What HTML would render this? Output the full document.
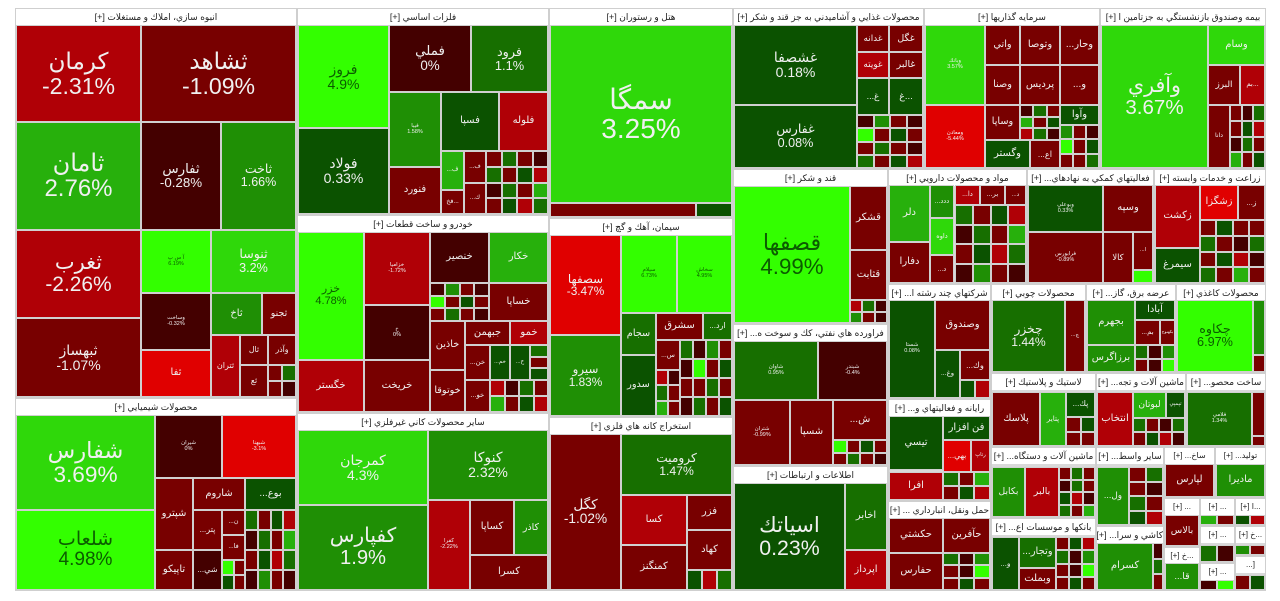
<!DOCTYPE html>
<html><head><meta charset="utf-8">
<style>
html,body{margin:0;padding:0;background:#fff;}
#map{position:relative;width:1280px;height:601px;overflow:hidden;background:#fff;font-family:"Liberation Sans","DejaVu Sans",sans-serif;}
.sec{position:absolute;box-sizing:border-box;background:#d9d9d9;border:1px solid #cfcfcf;}
.hdr{position:absolute;left:0;right:0;top:0;height:16px;background:#fff;color:#222;font-size:9px;line-height:16px;text-align:center;white-space:nowrap;overflow:hidden;direction:rtl;}
.t{position:absolute;box-sizing:border-box;border:1px solid #d0d0d0;display:flex;flex-direction:column;align-items:center;justify-content:center;overflow:hidden;text-align:center;line-height:1.05;white-space:nowrap;}
</style></head><body>
<div id="map"></div>
<script>
const sectorTitles=["انبوه سازي، املاك و مستغلات [+]","محصولات شيميايي [+]","فلزات اساسي [+]","خودرو و ساخت قطعات [+]","ساير محصولات كاني غيرفلزي [+]","هتل و رستوران [+]","سيمان، آهك و گچ [+]","استخراج كانه هاي فلزي [+]","محصولات غذايي و آشاميدني به جز قند و شكر [+]","سرمايه گذاريها [+]","بيمه وصندوق بازنشستگي به جزتامين ا [+]","قند و شكر [+]","فراورده هاي نفتي، كك و سوخت ه... [+]","اطلاعات و ارتباطات [+]","مواد و محصولات دارويي [+]","فعاليتهاي كمكي به نهادهاي... [+]","زراعت و خدمات وابسته [+]","شركتهاي چند رشته ا... [+]","محصولات چوبي [+]","عرضه برق، گاز... [+]","محصولات كاغذي [+]","لاستيك و پلاستيك [+]","ماشين آلات و تجه... [+]","ساخت محصو... [+]","رايانه و فعاليتهاي و... [+]","حمل ونقل، انبارداري ... [+]","ماشين آلات و دستگاه... [+]","بانكها و موسسات اع... [+]","ساير واسط... [+]","كاشي و سرا... [+]","ساخ... [+]","توليد... [+]","... [+]","... [+]","...ا [+]","... [+]","...خ [+]","...خ [+]","... [+]","[..."];
const sectorRects=[[15,8,296,397],[15,398,296,590],[297,8,548,214],[297,215,548,412],[297,413,548,590],[549,8,732,217],[549,218,732,416],[549,417,732,590],[733,8,923,168],[924,8,1099,168],[1100,8,1265,168],[733,169,887,323],[733,324,887,465],[733,466,887,590],[888,169,1026,283],[1027,169,1153,283],[1154,169,1265,283],[888,284,990,398],[991,284,1085,372],[1086,284,1175,372],[1176,284,1265,372],[991,373,1095,446],[1096,373,1185,446],[1186,373,1265,446],[888,399,990,500],[888,501,990,590],[991,447,1095,517],[991,518,1095,590],[1096,447,1163,525],[1096,526,1163,590],[1164,447,1214,497],[1215,447,1265,497],[1164,498,1199,546],[1200,498,1234,525],[1235,498,1265,525],[1200,526,1234,562],[1235,526,1265,555],[1164,547,1199,590],[1200,563,1234,590],[1235,556,1265,590]];
const tileNames=["كرمان","ثشاهد","ثامان","ثفارس","ثاخت","ثغرب","ثبهساز","آ س پ","ثنوسا","وساخت","ثاخ","ثجنو","ثفا","ثتران","ثال","وآذر","ثع",
"شفارس","شلعاب","شيران","شبهنا","شپترو","تاپيكو","شاروم","...بوع","...پتر","...ن","...فا","...شي",
"فروز","فولاد","فملي","فرود","فيبا","فسپا","فلوله","...ف","...ف","فخ...","...ك","فنورد",
"خزر","خگستر","خزامیا","خ","خريخت","خنصير","خكار","خساپا","خاذين","جبهمن","خمو","...خن","...خم","...خ","خوتوقا","...خو",
"كمرجان","كفپارس","كنوكا","كفرا","كساپا","كاذر","كسرا",
"سمگا","هتل","رستوران",
"سصفها","سيلام","سخاش","سيرو","سجام","سشرق","...ارد","...س","سدور",
"كگل","كروميت","كسا","فزر","كهاد","كمنگنز",
"غشصفا","غفارس","غدانه","غگل","غويته","غالبر","...غ","غ...",
"وبانك","ومعادن","واتي","وتوصا","...وحار","وصنا","پرديس","...و","وساپا","وآوا","وگستر","...اع",
"وآفري","وسام","البرز","بم...","دانا",
"قصفها","قشكر","قثابت",
"شاوان","شبندر","شتران","شسپا","...ش",
"اسياتك","اخابر","اپرداز",
"دلر","...ددد","داوه","دفارا","...د","...دا","...بر","...د",
"وبوعلي","وسپه","فرابورس","كالا","...ا",
"زكشت","زشگزا","...ز","سيمرغ",
"شستا","وصندوق","...وغ","...وك",
"چخزر","...چ",
"بجهرم","آبادا","...بم","بكهنوج","برزاگرس",
"چكاوه","چفيبر","چكارن",
"پلاسك","پتاير","...پك",
"انتخاب","لبوتان","تپمپي",
"فلامي","فجر",
"تيسي","فن افزار","...بهي","رتاپ","افرا",
"حكشتي","حفارس","حآفرين",
"بكابل","بالبر",
"...و","...وتجار","وبملت",
"...ول",
"كسرام",
"لپارس","ماديرا","بالاس","...قا"];
const tileChanges=[-2.31,-1.09,2.76,-0.28,1.66,-2.26,-1.07,6.19,3.2,-0.32,2.4,-0.6,-5.8,-2.0,-0.7,-0.9,-0.5,
3.69,4.98,0,-3.1,-0.9,-1.2,-0.9,0.2,-0.8,-0.6,-1.0,-0.4,
4.9,0.33,0,1.1,1.58,0.4,-2.2,2.5,-1.2,-0.6,-0.5,-0.9,
4.78,-1.77,-1.72,0,-0.6,-0.44,2.8,-0.9,-1.3,-0.7,-2.4,-0.6,0.3,0.4,-1.1,-0.5,
4.3,1.9,2.32,-2.22,-0.8,2.1,-0.9,
3.25,-0.5,0.3,
-3.47,6.73,4.95,1.83,0.5,-0.8,0.6,-0.5,0.3,
-1.02,1.47,-2.8,-0.6,-0.8,-0.7,
0.18,0.08,-0.6,-0.7,-2.3,-0.8,0.3,0.4,
3.57,-5.44,-0.6,-1.2,-0.7,-0.6,-0.7,-0.5,-0.8,0.3,0.4,-0.9,
3.67,3.7,-0.8,-2.4,-0.8,
4.99,-0.6,-0.7,
0.95,-0.4,-0.99,-1.3,-0.6,
0.23,0.6,-2.5,
2.5,2.2,3.0,-1.0,-0.6,-2.4,-0.7,-1.1,
0.33,-1.3,-0.89,-0.7,-0.8,
-2.0,-3.2,-0.8,0.4,
0.08,-0.6,0.3,-0.7,
1.44,-0.9,
1.8,0.4,-0.7,-1.2,2.2,
6.97,1.6,-0.8,
-1.18,2.6,0.4,
-2.9,2.7,0.4,
1.34,-0.8,
0.13,0.4,-3.0,-2.6,-2.7,
-1.3,-0.8,-0.9,
1.6,-2.4,
0.4,0.5,-0.9,
2.1,
1.99,
-1.0,1.5,-1.1,1.6];
const tileRects=[[16,25,141,122],[141,25,296,122],[16,122,141,230],[141,122,221,230],[221,122,296,230],[16,230,141,318],[16,318,141,397],[141,230,211,293],[211,230,296,293],[141,293,211,350],[211,293,262,335],[262,293,296,335],[141,350,211,397],[211,335,240,397],[240,335,268,365],[268,335,296,365],[240,365,268,397],
[16,415,155,510],[16,510,155,590],[155,415,222,478],[222,415,296,478],[155,478,193,550],[155,550,193,590],[193,478,245,510],[245,478,296,510],[193,510,222,550],[222,510,245,535],[222,535,245,560],[193,550,222,590],
[298,25,389,128],[298,128,389,214],[389,25,471,92],[471,25,548,92],[389,92,441,167],[441,92,499,151],[499,92,548,151],[441,151,464,190],[464,151,486,183],[441,190,464,214],[464,183,486,214],[389,167,441,214],
[298,232,364,360],[298,360,364,412],[364,232,430,305],[364,305,430,360],[364,360,430,412],[430,232,489,283],[489,232,548,283],[489,283,548,321],[430,321,465,370],[465,321,510,345],[510,321,548,345],[465,345,490,380],[490,345,510,380],[510,345,530,380],[430,370,465,412],[465,380,490,412],
[298,430,428,505],[298,505,428,590],[428,430,548,500],[428,500,470,590],[470,500,514,555],[514,500,548,555],[470,555,548,590],
[550,25,732,203],[550,203,696,217],[696,203,732,217],
[550,235,621,335],[621,235,677,313],[677,235,732,313],[550,335,621,416],[621,313,656,355],[656,313,703,340],[703,313,732,340],[656,340,680,370],[621,355,656,416],
[550,434,621,590],[621,434,732,495],[621,495,687,545],[687,495,732,530],[687,530,732,570],[621,545,687,590],
[734,25,857,105],[734,105,857,168],[857,25,889,52],[889,25,923,52],[857,52,889,78],[889,52,923,78],[857,78,889,115],[889,78,923,115],
[925,25,985,105],[925,105,985,168],[985,25,1020,65],[1020,25,1060,65],[1060,25,1099,65],[985,65,1020,105],[1020,65,1060,105],[1060,65,1099,105],[985,105,1020,140],[1060,105,1099,125],[985,140,1030,168],[1030,140,1060,168],
[1101,25,1208,168],[1208,25,1265,65],[1208,65,1240,105],[1240,65,1265,105],[1208,105,1230,168],
[734,186,850,323],[850,186,887,250],[850,250,887,300],
[734,341,818,400],[818,341,887,400],[734,400,790,465],[790,400,833,465],[833,400,887,440],
[734,483,845,590],[845,483,887,550],[845,550,887,590],
[889,185,930,242],[930,185,954,218],[930,218,954,255],[889,242,930,283],[930,255,954,283],[955,185,980,205],[980,185,1005,205],[1005,185,1026,205],
[1028,185,1103,232],[1103,185,1153,232],[1028,232,1103,283],[1103,232,1133,283],[1133,232,1153,270],
[1155,185,1200,248],[1200,185,1238,220],[1238,185,1265,220],[1155,248,1200,283],
[889,300,935,398],[935,300,990,350],[935,350,960,398],[960,350,990,380],
[992,300,1065,372],[1065,300,1085,372],
[1087,300,1135,345],[1135,300,1175,320],[1135,320,1160,345],[1160,320,1175,345],[1087,345,1135,372],
[1177,300,1253,372],[1253,300,1265,355],[1253,355,1265,372],
[992,392,1040,446],[1040,392,1066,446],[1066,392,1095,417],
[1097,392,1133,446],[1133,392,1166,418],[1166,392,1185,418],
[1187,392,1252,446],[1252,392,1265,436],
[889,416,943,470],[943,416,990,440],[943,440,971,472],[971,440,990,472],[889,472,943,500],
[889,518,943,553],[889,553,943,590],[943,518,990,553],
[992,467,1025,517],[1025,467,1059,517],
[992,537,1019,590],[1019,537,1056,568],[1019,568,1056,590],
[1097,467,1129,525],
[1097,543,1153,590],
[1165,464,1214,497],[1216,464,1265,497],[1165,515,1199,546],[1165,563,1199,590]];
const fillChanges=[-0.5,0.6,-1.2,-0.3,1.2,-0.8,0.3,-2.1,-0.4,0.9,-1.0,2.8,-0.6,0.2,-1.5,0.5,-0.2,1.6,-0.9,-0.3,4.8,-0.7,0.4,-1.1];
const fillRects=[[268,365,296,397],[245,510,296,590],[222,560,245,590],[486,151,548,214],[430,283,489,321],[530,345,548,380],[490,380,548,412],[680,340,732,416],[656,370,680,416],[687,570,732,590],[857,115,923,168],[1020,105,1060,140],[1060,125,1099,168],[1230,105,1265,168],[850,300,887,323],[833,440,887,465],[955,205,1026,283],[1133,270,1153,283],[1200,220,1265,283],[960,380,990,398],[1135,345,1175,372],[1066,417,1095,446],[1133,418,1185,446],[943,472,990,500],[943,553,990,590],[1059,467,1095,517],[1056,537,1095,590],[1129,467,1163,525],[1153,543,1163,590],[1200,515,1234,525],[1235,515,1265,525],[1200,545,1234,562],[1235,545,1265,555],[1200,580,1234,590],[1235,575,1265,590],[1252,436,1265,446]];

function col(c){
  if(c>=4.5)return"#33ff00"; if(c>=3.0)return"#2fd80a"; if(c>=2.5)return"#27b00c";
  if(c>=1.5)return"#1f8f05"; if(c>=0.5)return"#176f00"; if(c>0)return"#0b5200";
  if(c>-0.5)return"#440000"; if(c>-1.5)return"#780000"; if(c>-3)return"#b00006"; return"#e00000";
}
const map=document.getElementById('map');
sectorRects.forEach((r,i)=>{
  const s=document.createElement('div');s.className='sec';
  
  
  Object.assign(s.style,{left:r[0]+'px',top:r[1]+'px',width:(r[2]-r[0]+1)+'px',height:(r[3]-r[1]+1)+'px'});
  const h=document.createElement('div');h.className='hdr';h.textContent=sectorTitles[i];
  
  
  if(r[2]-r[0]<60)h.style.fontSize='8px';
  s.appendChild(h);map.appendChild(s);
});
function tile(r,c,name,showPct){
  const w=r[2]-r[0],h=r[3]-r[1],area=w*h;
  const d=document.createElement('div');d.className='t';
  
  
  Object.assign(d.style,{left:r[0]+'px',top:r[1]+'px',width:w+'px',height:h+'px',background:col(c),color:c>=4.5?'#0b5c00':'#f0f0f0'});
  if(name && h>=18){
    let fs,pct=showPct;
    if(area>=11000){fs=Math.min(w/5.2,h/4.2,28);}
    else if(area>=5000){fs=Math.min(w/6,h/5,14);}
    else if(area>=3500 && w>=40 && h>=40){fs=5.5;}
    else {fs=Math.min(10,w/3.6,h/1.6);pct=false;}
    if(fs>=4){
      d.style.fontSize=fs+'px';
      const n=document.createElement('div');n.textContent=name;d.appendChild(n);
      if(pct){const p=document.createElement('div');p.textContent=c+'%';d.appendChild(p);}
    }
  }
  map.appendChild(d);
}
tileRects.forEach((r,i)=>tile(r,tileChanges[i],tileNames[i],true));
let k=0;
fillRects.forEach(r=>{
  const w=r[2]-r[0],h=r[3]-r[1];
  const cols=Math.max(1,Math.min(4,Math.round(w/14))),rows=Math.max(1,Math.min(4,Math.round(h/14)));
  for(let a=0;a<rows;a++)for(let b=0;b<cols;b++){
    const x1=r[0]+Math.round(b*w/cols),x2=r[0]+Math.round((b+1)*w/cols);
    const y1=r[1]+Math.round(a*h/rows),y2=r[1]+Math.round((a+1)*h/rows);
    tile([x1,y1,x2,y2],fillChanges[k%fillChanges.length],'',false);k++;
  }
});
</script>
</body></html>
